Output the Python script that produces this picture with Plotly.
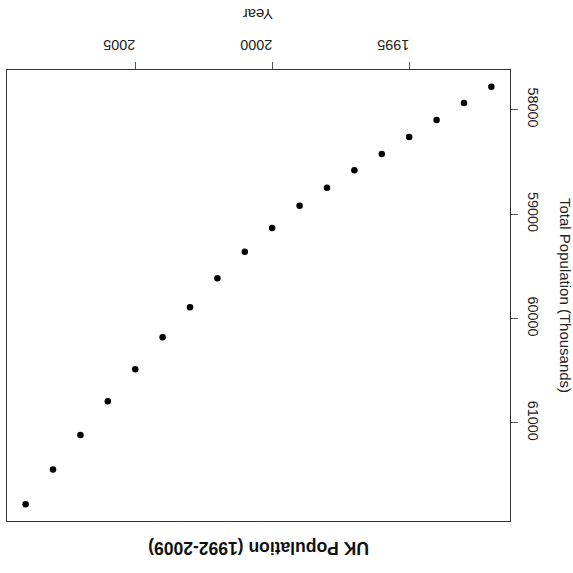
import plotly.graph_objects as go

years = list(range(1992, 2010))
population = [57779, 57936, 58099, 58260, 58423, 58580, 58747, 58920, 59132,
              59360, 59613, 59892, 60178, 60486, 60791, 61115, 61446, 61779]
x_ticks = [1995, 2000, 2005]
y_ticks = [58000, 59000, 60000, 61000]

title_text = "UK Population (1992-2009)"
x_title = "Year"
y_title = "Total Population (Thousands)"

font_family = "Liberation Sans, Arial, sans-serif"

fig = go.Figure(go.Scatter(
    x=years, y=population, mode="markers",
    marker=dict(color="black", size=6.5, line=dict(width=0)),
    showlegend=False, hoverinfo="x+y"))

xpad = (max(years) - min(years)) * 0.04
ypad = (max(population) - min(population)) * 0.04

fig.update_layout(
    width=573, height=573,
    margin=dict(l=7, r=63, t=70, b=52),
    paper_bgcolor="white", plot_bgcolor="white",
    font=dict(family=font_family, size=14, color="black"),
    xaxis=dict(
        side="top", range=[max(years) + xpad, min(years) - xpad],
        tickvals=x_ticks, ticktext=[str(t) for t in x_ticks],
        ticks="outside", ticklen=7, tickcolor="#555", tickwidth=1,
        tickangle=180, showgrid=False, zeroline=False,
        showline=True, linecolor="#333", linewidth=1, mirror=True,
        tickfont=dict(family=font_family, size=14.4, color="#222"),
        ticklabelstandoff=2,
    ),
    yaxis=dict(
        side="right", range=[max(population) + ypad, min(population) - ypad],
        tickvals=y_ticks, ticktext=[str(t) for t in y_ticks],
        ticks="outside", ticklen=7, tickcolor="#555", tickwidth=1,
        tickangle=90, showgrid=False, zeroline=False,
        showline=True, linecolor="#333", linewidth=1, mirror=True,
        tickfont=dict(family=font_family, size=14.4, color="#222"),
        ticklabelstandoff=4,
    ),
    annotations=[
        dict(text=x_title, textangle=180, xref="paper", yref="paper",
             x=0.5, y=1, yshift=66, showarrow=False,
             font=dict(family=font_family, size=15, color="#222")),
        dict(text=y_title, textangle=90, xref="paper", yref="paper",
             x=1, xshift=66, y=0.5, showarrow=False,
             font=dict(family=font_family, size=15, color="#222")),
        dict(text="<b>" + title_text + "</b>", textangle=180, xref="paper", yref="paper",
             x=0.5, y=0, yshift=-39, showarrow=False,
             font=dict(family=font_family, size=17.5, color="#111")),
    ],
)

fig.write_html("out.html", config={"displayModeBar": False},
               post_script="document.body.style.margin='0px';")
